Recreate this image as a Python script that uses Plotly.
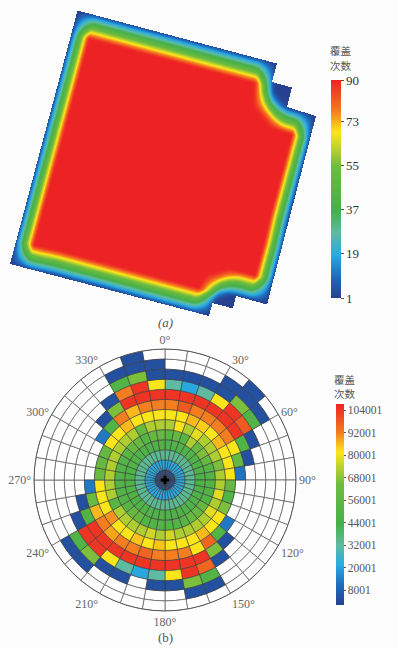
import numpy as np
import plotly.graph_objects as go

# ---- data: panel (a) ----
outline_x = [77.5, 277, 272, 292, 287, 316, 267, 236, 233, 212.5, 209, 10]
outline_y = [10.5, 63.5, 82, 87.5, 107, 116, 304.5, 296, 308.5, 303, 316, 264]
core_x = [77.5, 277, 276.2, 291.8, 316, 267, 236.4, 217.1, 209, 10]
core_y = [10.5, 63.5, 89.6, 108.7, 116, 304.5, 296.2, 302.5, 316, 264]
swath_angle_deg = 15.0
swath_size_along = 18
swath_size_across = 24
fold_min = 1
fold_max = 90
fold_ticks = [1, 19, 37, 55, 73, 90]

# ---- data: panel (b) ---- rows = azimuth sectors (10 deg), cols = offset rings 1..13, thousands
_ = None
sector_start = list(range(0, 360, 10))
hits_thousands = [
    [4, 21, 34, 48, 52, 72, 81, 92, 104, 32, 4, _, _],
    [4, 21, 34, 48, 60, 81, 81, 98, 104, 21, 4, _, _],
    [4, 21, 34, 48, 52, 72, 86, 92, 104, 32, 4, _, _],
    [4, 21, 34, 48, 72, 78, 84, 92, 104, 81, 4, 4, _],
    [4, 21, 34, 48, 60, 72, 81, 92, 104, 104, 66, 4, 4],
    [4, 21, 34, 48, 66, 72, 86, 92, 104, 98, 50, 4, _],
    [4, 21, 34, 48, 60, 72, 81, 81, 50, 4, _, _, _],
    [4, 21, 34, 48, 52, 66, 81, 60, 4, _, _, _, _],
    [4, 21, 34, 48, 50, 72, 81, 12, _, _, _, _, _],
    [4, 21, 34, 48, 50, 72, 60, _, _, _, _, _, _],
    [4, 21, 34, 48, 50, 78, 50, _, _, _, _, _, _],
    [4, 21, 34, 48, 50, 72, 66, _, _, _, _, _, _],
    [4, 21, 34, 48, 60, 78, 81, 13, _, _, _, _, _],
    [4, 21, 34, 48, 60, 72, 81, 50, 4, _, _, _, _],
    [4, 21, 34, 48, 60, 72, 86, 96, 66, 4, _, _, _],
    [4, 21, 34, 48, 52, 72, 81, 81, 104, 96, 50, 4, _],
    [4, 21, 34, 48, 50, 72, 81, 92, 104, 104, 66, 4, _],
    [4, 21, 34, 48, 50, 76, 81, 92, 104, 81, 4, _, _],
    [4, 21, 34, 48, 50, 72, 85, 92, 104, 32, 4, _, _],
    [4, 21, 34, 48, 50, 76, 81, 96, 104, 21, _, _, _],
    [4, 21, 34, 48, 50, 72, 85, 92, 104, 32, 4, _, _],
    [4, 21, 34, 48, 60, 72, 81, 92, 104, 81, 4, _, _],
    [4, 21, 34, 48, 60, 72, 81, 88, 104, 104, 66, 4, _],
    [4, 21, 34, 48, 52, 72, 90, 92, 104, 104, 50, 4, _],
    [4, 21, 34, 48, 50, 52, 81, 86, 50, 4, _, _, _],
    [4, 21, 34, 48, 50, 72, 81, 62, 4, _, _, _, _],
    [4, 21, 34, 48, 50, 72, 81, 13, _, _, _, _, _],
    [4, 21, 34, 48, 50, 72, 62, _, _, _, _, _, _],
    [4, 21, 34, 48, 50, 72, 60, _, _, _, _, _, _],
    [4, 21, 34, 48, 50, 72, 60, _, _, _, _, _, _],
    [4, 21, 34, 48, 52, 72, 81, 13, _, _, _, _, _],
    [4, 21, 34, 48, 60, 72, 81, 50, 4, _, _, _, _],
    [4, 21, 34, 48, 60, 72, 86, 92, 66, 4, _, _, _],
    [4, 21, 34, 48, 52, 60, 81, 86, 104, 92, 50, 4, _],
    [4, 21, 34, 48, 60, 72, 81, 92, 104, 104, 66, 4, 4],
    [4, 21, 34, 48, 60, 72, 81, 92, 104, 81, 4, 4, _],
]
hit_ticks = [8001, 20001, 32001, 44001, 56001, 68001, 80001, 92001, 104001]
hit_min = 0
hit_max = 107200
angle_ticks = list(range(0, 360, 30))

COLORSCALE = [
    [0.00, "#27408f"], [0.10, "#1f6cbd"], [0.20, "#29abe2"], [0.30, "#5fbba0"],
    [0.40, "#45b04a"], [0.60, "#6dbb3f"], [0.68, "#b5cf2f"], [0.76, "#fde619"],
    [0.86, "#f47b20"], [1.00, "#ed2224"],
]
SERIF = "Liberation Serif"
CJK = "Noto Sans CJK SC"
W, H = 398, 649
BG = "#fdfdfd"


def box(a, hu, hv):
    s = np.zeros((a.shape[0] + 1, a.shape[1] + 1))
    s[1:, 1:] = a.cumsum(0).cumsum(1)
    n, m = a.shape
    iv, iu = np.mgrid[0:n, 0:m]
    v0, v1 = np.clip(iv - hv, 0, n), np.clip(iv + hv + 1, 0, n)
    u0, u1 = np.clip(iu - hu, 0, m), np.clip(iu + hu + 1, 0, m)
    return (s[v1, u1] - s[v0, u1] - s[v1, u0] + s[v0, u0]) / ((2 * hu + 1) * (2 * hv + 1))


def inside(px, py, polyx, polyy):
    c = np.zeros(px.shape, bool)
    for i in range(len(polyx)):
        x1, y1, x2, y2 = polyx[i], polyy[i], polyx[i - 1], polyy[i - 1]
        hit = ((y1 > py) != (y2 > py)) & (px < (x2 - x1) * (py - y1) / (y2 - y1 + 1e-12) + x1)
        c ^= hit
    return c


t = np.radians(swath_angle_deg)
ca, sa = np.cos(t), np.sin(t)
ox, oy = np.array(outline_x), np.array(outline_y)
kx, ky = np.array(core_x), np.array(core_y)
pu, pv = ca * ox + sa * oy, -sa * ox + ca * oy
qu, qv = ca * kx + sa * ky, -sa * kx + ca * ky
u0, v0 = pu.min() - 20, pv.min() - 20
nu, nv = int(pu.max() - u0 + 21), int(pv.max() - v0 + 21)
vv, uu = np.mgrid[0:nv, 0:nu]
mask = inside(uu + u0 + 0.5, vv + v0 + 0.5, qu, qv)
hu, hv = swath_size_along // 2, swath_size_across // 2
eroded = (box(mask.astype(float), hu, hv) > 0.9999).astype(float)
frac = box(box(eroded, hu, hv), 1, 1)

gx = np.arange(0.5, W, 1.0)
gy = np.arange(0.5, 330, 1.0)
X, Y = np.meshgrid(gx, gy)
inpoly = inside(X, Y, ox, oy)
Uf = np.clip(ca * X + sa * Y - u0 - 0.5, 0, nu - 1.001)
Vf = np.clip(-sa * X + ca * Y - v0 - 0.5, 0, nv - 1.001)
Ui, Vi = Uf.astype(int), Vf.astype(int)
du, dv = Uf - Ui, Vf - Vi
samp = (frac[Vi, Ui] * (1 - du) * (1 - dv) + frac[Vi, Ui + 1] * du * (1 - dv)
        + frac[Vi + 1, Ui] * (1 - du) * dv + frac[Vi + 1, Ui + 1] * du * dv)
Z = np.round(fold_min + (fold_max - fold_min) * samp, 1).astype(object)
Z[~inpoly] = None

fig = go.Figure()
fig.add_trace(go.Heatmap(
    x=gx, y=gy, z=Z.tolist(), colorscale=COLORSCALE, zmin=fold_min, zmax=fold_max,
    hoverinfo="skip",
    colorbar=dict(
        x=331 / W, xanchor="left", y=1 - 298 / H, yanchor="bottom", len=218, lenmode="pixels",
        thickness=10, thicknessmode="pixels", xpad=0, ypad=0, outlinewidth=0,
        tickvals=fold_ticks, ticks="outside", ticklen=3, tickcolor="#555", tickwidth=1,
        tickfont=dict(family=SERIF, size=13, color="#333"),
    ),
))

th_on, base_on, col_on, th_off, base_off = [], [], [], [], []
for s, row in zip(sector_start, hits_thousands):
    for ring, val in enumerate(row):
        if val is None:
            th_off.append(s + 5); base_off.append(ring)
        else:
            th_on.append(s + 5); base_on.append(ring); col_on.append(val * 1000)

LINE = dict(color="#3a3a3a", width=0.6)
fig.add_trace(go.Barpolar(
    theta=th_off, base=base_off, r=[1] * len(th_off), width=10, subplot="polar",
    marker=dict(color="#ffffff", line=dict(color="#666", width=0.8)), hoverinfo="skip", showlegend=False,
))
fig.add_trace(go.Barpolar(
    theta=th_on, base=base_on, r=[1] * len(th_on), width=10, subplot="polar",
    marker=dict(
        color=col_on, colorscale=COLORSCALE, cmin=hit_min, cmax=hit_max, line=LINE,
        colorbar=dict(
            x=336 / W, xanchor="left", y=1 - 605 / H, yanchor="bottom", len=201, lenmode="pixels",
            thickness=8, thicknessmode="pixels", xpad=0, ypad=0, outlinewidth=0,
            tickvals=hit_ticks, tickformat="d", ticks="outside", ticklen=2, tickcolor="#555", tickwidth=1,
            tickfont=dict(family=SERIF, size=11.5, color="#555"),
        ),
    ),
    hoverinfo="skip", showlegend=False,
))
fig.add_trace(go.Scatterpolar(
    r=[0], theta=[0], mode="markers", subplot="polar",
    marker=dict(symbol="cross", size=7, color="#000"), hoverinfo="skip", showlegend=False,
))

cx, cy, R = 165, 480, 131
anns = [
    dict(text="<i>(a)</i>", x=165, y=322, size=13, family=SERIF, color="#555"),
    dict(text="(b)", x=165, y=637, size=13, family=SERIF, color="#555"),
    dict(text="覆盖", x=341, y=51, size=10.5, family=CJK, color="#555"),
    dict(text="次数", x=341, y=65, size=10.5, family=CJK, color="#555"),
    dict(text="覆盖", x=345, y=379, size=10.5, family=CJK, color="#555"),
    dict(text="次数", x=345, y=393, size=10.5, family=CJK, color="#555"),
]
fig.update_layout(
    width=W, height=H, autosize=False, margin=dict(l=0, r=0, t=0, b=0),
    paper_bgcolor=BG, plot_bgcolor=BG, showlegend=False,
    xaxis=dict(range=[0, W], domain=[0, 1], visible=False, fixedrange=True),
    yaxis=dict(range=[H, 0], domain=[0, 1], visible=False, fixedrange=True),
    polar=dict(
        domain=dict(x=[(cx - R) / W, (cx + R) / W], y=[1 - (cy + R) / H, 1 - (cy - R) / H]),
        bgcolor="#ffffff",
        radialaxis=dict(range=[0, 13], visible=False, showgrid=False),
        angularaxis=dict(
            rotation=90, direction="clockwise", showgrid=False, linecolor="#555", linewidth=1,
            tickmode="array", tickvals=angle_ticks, ticktext=[f"{a}°" for a in angle_ticks],
            ticks="", tickfont=dict(family=SERIF, size=12, color="#666"),
        ),
    ),
    annotations=[
        dict(text=a["text"], x=a["x"] / W, y=1 - a["y"] / H, xref="paper", yref="paper",
             xanchor="center", yanchor="middle", showarrow=False,
             font=dict(family=a["family"], size=a["size"], color=a["color"]))
        for a in anns
    ],
)
fig.write_html("out.html", config=dict(displayModeBar=False),
               post_script="document.body.style.margin='0';document.body.style.background='#fdfdfd';")
